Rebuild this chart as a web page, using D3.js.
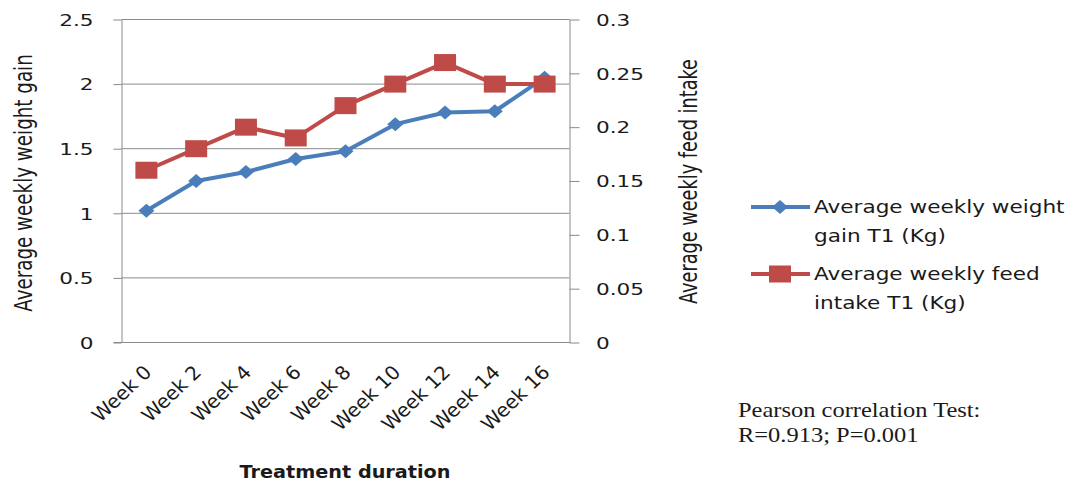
<!DOCTYPE html>
<html>
<head>
<meta charset="utf-8">
<script src="https://cdn.jsdelivr.net/npm/d3@7"></script>
<style>
  body { margin: 0; background: #fff; }
  svg { display: block; }
  text { font-family: "DejaVu Sans", sans-serif; fill: #1a1a1a; }
</style>
</head>
<body>
<div id="chart"></div>
<script>
// data
const weeks = ["Week 0", "Week 2", "Week 4", "Week 6", "Week 8", "Week 10", "Week 12", "Week 14", "Week 16"];
const weightGain = [1.02, 1.25, 1.32, 1.42, 1.48, 1.69, 1.78, 1.79, 2.05];
const feedIntake = [0.16, 0.18, 0.20, 0.19, 0.22, 0.24, 0.26, 0.24, 0.24];
const leftTicks = [0, 0.5, 1, 1.5, 2, 2.5];
const rightTicks = [0, 0.05, 0.1, 0.15, 0.2, 0.25, 0.3];
const legendWeight = ["Average weekly weight", "gain T1 (Kg)"];
const legendFeed = ["Average weekly feed", "intake T1 (Kg)"];
const statLines = ["Pearson correlation Test:", "R=0.913; P=0.001"];

const width = 1086, height = 485;
const plot = { left: 121.5, right: 569.5, top: 19.5, bottom: 342.5 };
const blue = "#4a7ebb", red = "#be4b48", grid = "#8a8a8a";

const svg = d3.select("#chart").append("svg")
  .attr("width", width)
  .attr("height", height);

const x = d3.scalePoint().domain(weeks).range([plot.left, plot.right]).padding(0.5);
const yL = d3.scaleLinear().domain([0, 2.5]).range([plot.bottom, plot.top]);
const yR = d3.scaleLinear().domain([0, 0.3]).range([plot.bottom, plot.top]);

// gridlines (left axis)
svg.append("g")
  .selectAll("line")
  .data(leftTicks).enter()
  .append("line")
  .attr("x1", plot.left).attr("x2", plot.right)
  .attr("y1", d => yL(d)).attr("y2", d => yL(d))
  .attr("stroke", grid).attr("stroke-width", 1);

// left axis
const gL = svg.append("g")
  .attr("transform", `translate(${plot.left},0)`)
  .call(d3.axisLeft(yL).tickValues(leftTicks).tickFormat(d3.format("")).tickSizeInner(8).tickSizeOuter(0));
gL.select(".domain").attr("stroke", grid);
gL.selectAll(".tick line").attr("stroke", grid);
gL.selectAll(".tick text")
  .attr("x", null).attr("dy", "0.36em")
  .attr("transform", "translate(-28,0) scale(1.35,1)")
  .style("font-size", "16px").style("font-family", "DejaVu Sans").attr("fill", "#1a1a1a");

// right axis
const gR = svg.append("g")
  .attr("transform", `translate(${plot.right},0)`)
  .call(d3.axisRight(yR).tickValues(rightTicks).tickFormat(d3.format("")).tickSizeInner(10).tickSizeOuter(0));
gR.select(".domain").attr("stroke", grid);
gR.selectAll(".tick line").attr("stroke", grid);
gR.selectAll(".tick text")
  .attr("x", null).attr("dy", "0.36em")
  .attr("transform", "translate(26.5,0) scale(1.35,1)")
  .style("font-size", "16px").style("font-family", "DejaVu Sans").attr("fill", "#1a1a1a");

// bottom axis
const gB = svg.append("g")
  .attr("transform", `translate(0,${plot.bottom})`)
  .call(d3.axisBottom(x).tickSize(0));
gB.select(".domain").attr("stroke", grid).attr("d", `M${plot.left - 8},0H${plot.right}`);
gB.selectAll(".tick text")
  .attr("y", null).attr("dy", null)
  .attr("text-anchor", "end")
  .attr("transform", "translate(6,31) scale(1.06,1) rotate(-45)")
  .style("font-size", "19px").style("font-family", "DejaVu Sans").attr("fill", "#1a1a1a");

// axis titles
svg.append("text")
  .attr("transform", `translate(31.5,183) scale(1.35,1) rotate(-90)`)
  .attr("text-anchor", "middle")
  .style("font-size", "18.3px")
  .text("Average weekly weight gain");

svg.append("text")
  .attr("transform", `translate(697,181.5) scale(1.35,1) rotate(-90)`)
  .attr("text-anchor", "middle")
  .style("font-size", "17.7px")
  .text("Average weekly feed intake");

svg.append("text")
  .attr("transform", `translate(345,478) scale(1.1,1)`)
  .attr("text-anchor", "middle")
  .style("font-size", "17.5px")
  .style("font-weight", "bold")
  .text("Treatment duration");

// series
const lineL = d3.line().x((d, i) => x(weeks[i])).y(d => yL(d));
const lineR = d3.line().x((d, i) => x(weeks[i])).y(d => yR(d));

const diamond = (cx, cy, w, h) => `M${cx},${cy - h / 2}L${cx + w / 2},${cy}L${cx},${cy + h / 2}L${cx - w / 2},${cy}Z`;

svg.append("path")
  .datum(weightGain)
  .attr("d", lineL)
  .attr("fill", "none").attr("stroke", blue).attr("stroke-width", 4)
  .attr("stroke-linejoin", "round");
svg.append("g").selectAll("path")
  .data(weightGain).enter()
  .append("path")
  .attr("d", (d, i) => diamond(x(weeks[i]), yL(d), 16, 14))
  .attr("fill", blue);

svg.append("path")
  .datum(feedIntake)
  .attr("d", lineR)
  .attr("fill", "none").attr("stroke", red).attr("stroke-width", 4)
  .attr("stroke-linejoin", "round");
svg.append("g").selectAll("rect")
  .data(feedIntake).enter()
  .append("rect")
  .attr("x", (d, i) => x(weeks[i]) - 11)
  .attr("y", d => yR(d) - 8.5)
  .attr("width", 22).attr("height", 17)
  .attr("fill", red);

// legend
const legend = svg.append("g");
const legendItems = [
  { lines: legendWeight, color: blue, y: 207, marker: "diamond" },
  { lines: legendFeed, color: red, y: 274, marker: "square" }
];
legendItems.forEach(item => {
  legend.append("line")
    .attr("x1", 751).attr("x2", 810)
    .attr("y1", item.y).attr("y2", item.y)
    .attr("stroke", item.color).attr("stroke-width", 4);
  if (item.marker === "diamond") {
    legend.append("path").attr("d", diamond(780, item.y, 16, 14)).attr("fill", item.color);
  } else {
    legend.append("rect")
      .attr("x", 769).attr("y", item.y - 8.5)
      .attr("width", 22).attr("height", 17)
      .attr("fill", item.color);
  }
  item.lines.forEach((t, j) => {
    legend.append("text")
      .attr("transform", `translate(814,${item.y + 6 + j * 28.5}) scale(1.27,1)`)
      .style("font-size", "17px")
      .text(t);
  });
});

// correlation note
statLines.forEach((t, j) => {
  svg.append("text")
    .attr("transform", `translate(738,${417 + j * 25}) scale(1.2,1)`)
    .style("font-family", "'Liberation Serif', serif")
    .style("font-size", "20.4px")
    .attr("fill", "#000")
    .text(t);
});
</script>
</body>
</html>
